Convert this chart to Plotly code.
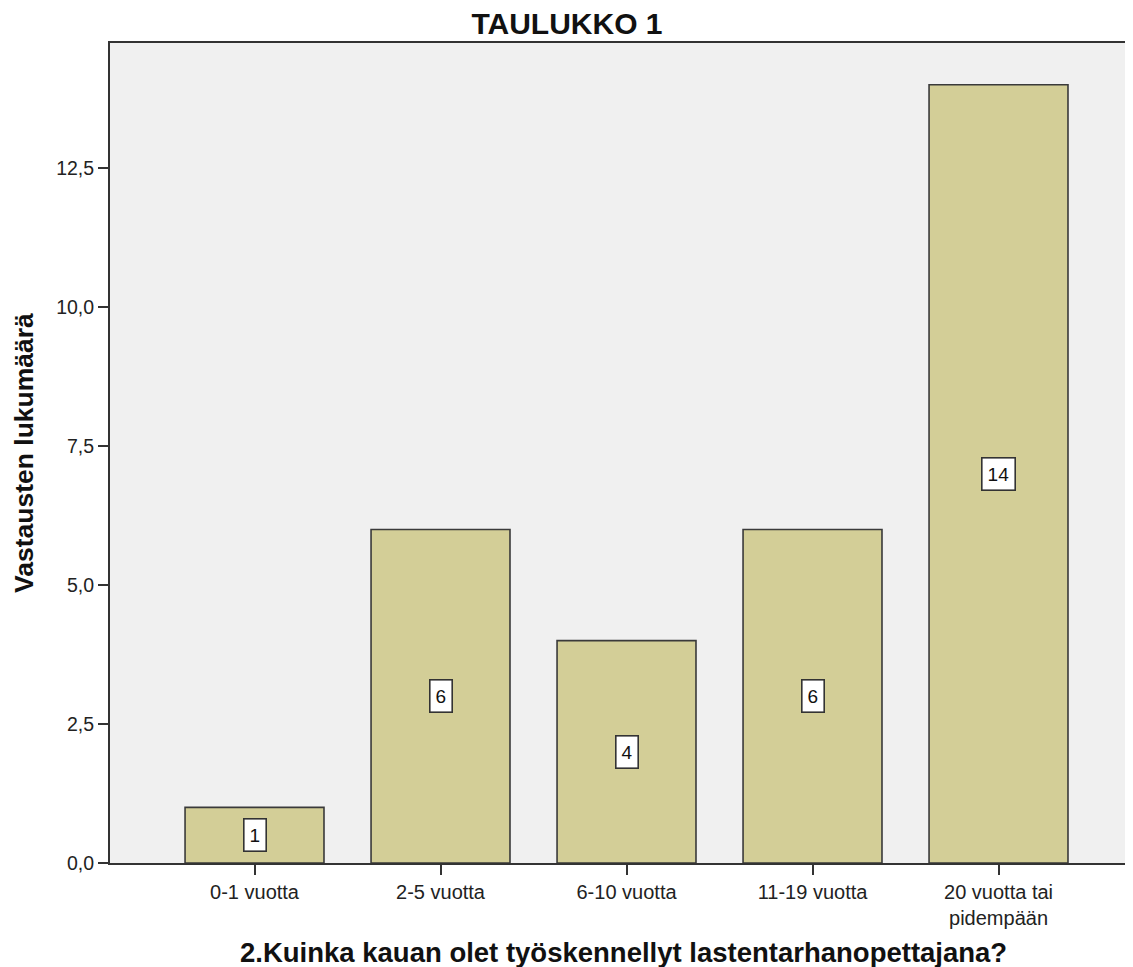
import plotly.graph_objects as go

categories = ["0-1 vuotta", "2-5 vuotta", "6-10 vuotta", "11-19 vuotta", "20 vuotta tai<br>pidempään"]
counts = [1, 6, 4, 6, 14]
y_ticks = [0, 2.5, 5.0, 7.5, 10.0, 12.5]

# page body has an 8px margin, so the figure is drawn 8px in from the window corner
W, H = 1125, 959
L, R, T, B = 102, 0, 35, 104
PW = W - L - R
PH = H - T - B

FONT = "Liberation Sans, Arial, sans-serif"

fig = go.Figure()
fig.add_trace(go.Bar(
    x=list(range(len(categories))),
    y=counts,
    width=0.747,
    marker=dict(color="#D3CE97", line=dict(color="#3a3a3a", width=1.6)),
    hoverinfo="skip",
))

for i, v in enumerate(counts):
    fig.add_annotation(
        x=i, y=v / 2, xref="x", yref="y",
        text=str(v), showarrow=False,
        font=dict(family=FONT, size=19, color="#111"),
        bgcolor="white", bordercolor="#333", borderwidth=1.6, borderpad=5,
    )

fig.add_annotation(
    text="<b>Vastausten lukumäärä</b>", textangle=-90,
    xref="paper", yref="paper", x=(16 - L) / PW, y=0.5,
    xanchor="center", yanchor="middle", showarrow=False,
    font=dict(family=FONT, size=26.5, color="#111"),
)
fig.add_annotation(
    text="<b>2.Kuinka kauan olet työskennellyt lastentarhanopettajana?</b>",
    xref="paper", yref="paper", x=(615 - L) / PW, y=-(944 - (H - B)) / PH,
    xanchor="center", yanchor="middle", showarrow=False,
    font=dict(family=FONT, size=27.5, color="#111"),
)

fig.update_layout(
    width=W, height=H,
    margin=dict(l=L, r=R, t=T, b=B, pad=0),
    paper_bgcolor="white",
    plot_bgcolor="#F0F0F0",
    separators=",.",
    showlegend=False,
    title=dict(
        text="<b>TAULUKKO 1</b>", x=559 / W, xref="container", xanchor="center",
        y=1 - 15 / H, yref="container", yanchor="middle",
        font=dict(family=FONT, size=30, color="#111"),
    ),
    xaxis=dict(
        range=[-0.777, 4.723],
        tickmode="array", tickvals=list(range(len(categories))), ticktext=categories,
        showline=True, linecolor="#333", linewidth=2, mirror=True,
        ticks="outside", ticklen=10, tickwidth=2, tickcolor="#333",
        showgrid=False, zeroline=False,
        tickfont=dict(family=FONT, size=20, color="#222"),
    ),
    yaxis=dict(
        range=[0, 14.75],
        tickmode="array", tickvals=y_ticks, tickformat=".1f",
        showline=True, linecolor="#333", linewidth=2,
        ticks="outside", ticklen=10, tickwidth=2, tickcolor="#333",
        showgrid=False, zeroline=False,
        tickfont=dict(family=FONT, size=19.5, color="#222"),
    ),
)

fig.write_html("out.html")
